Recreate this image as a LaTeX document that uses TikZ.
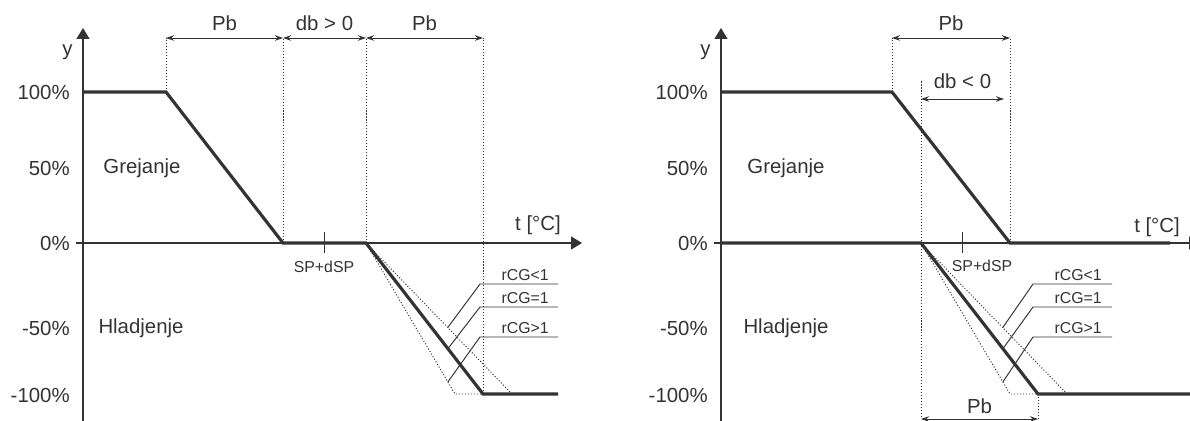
\documentclass[tikz,border=0pt]{standalone}
\usepackage{fontspec}
\setmainfont{Liberation Sans}
\usetikzlibrary{arrows.meta,positioning,calc}

\definecolor{ink}{HTML}{333333}
\tikzset{
  axis/.style={draw=ink, line width=0.75pt, -{Triangle[length=2.2mm,width=2.6mm]}},
  curve/.style={draw=ink, line width=1.8pt},
  thin/.style={draw=ink, line width=0.55pt},
  guide/.style={draw=ink, line width=0.55pt, dash pattern=on 0.6pt off 1.1pt},
  dim/.style={draw=ink, line width=0.55pt, {Stealth[length=1.6mm,width=1.1mm]}-{Stealth[length=1.6mm,width=1.1mm]}},
  lbl/.style={text=ink, font=\fontsize{11.6}{13}\selectfont, inner sep=0pt},
  small/.style={text=ink, font=\fontsize{9}{11}\selectfont, inner sep=0pt},
}

\begin{document}
\begin{tikzpicture}[x=0.2mm, y=0.2mm]
\useasboundingbox (0,0) rectangle (1190,421);

% ---------------- left: db > 0 ----------------
\begin{scope}[shift={(83,178)}]
    % Axes
    \coordinate (Lyb) at (0,-180);
    \coordinate (Lyt) at (0,215);
    \coordinate (Lxb) at (-7,0);
    \coordinate (Lxt) at (499,0);
    \draw[axis] (Lyb) -- (Lyt);
    \draw[axis] (Lxb) -- (Lxt);
    \node[lbl, anchor=east] (Ly) at (-10,191) {y};
    \node[lbl] (Lt) at (455,18) {t [°C]};
    \foreach \v/\t [count=\i] in {151/100\%, 75/50\%, 0/0\%, -85/-50\%, -152/-100\%}
        \node[lbl, anchor=east] (Lp\i) at (-13,\v) {\t};
    \node[lbl] (Lheat) at (59,75) {Grejanje};
    \node[lbl] (Lcool) at (58,-85) {Hladjenje};

    % Curve points
    \coordinate (Lh0) at (0,151);
    \coordinate (Lh1) at (83,151);
    \coordinate (Lh2) at (200,0);
    \coordinate (Lc0) at (283,0);
    \coordinate (Lc1) at (400,-151);
    \coordinate (Lc2) at (475,-151);
    \coordinate (Lcs) at (372,-151);
    \coordinate (Lcw) at (429,-151);
    \coordinate (Ltop) at (0,205);

    % Curves
    \draw[curve] (Lh0) -- (Lh1) -- (Lh2) -- (Lc0) -- (Lc1) -- (Lc2);
    \draw[guide] (Lc0) -- (Lcs) -- (Lc1);
    \draw[guide] (Lc0) -- (Lcw);

    % Bands
    \draw[guide] (Lh1) -- (Lh1 |- Ltop);
    \draw[guide] (Lh2) -- (Lh2 |- Ltop);
    \draw[guide] (Lc0) -- (Lc0 |- Ltop);
    \draw[guide] (Lc1) -- (Lc1 |- Ltop);
    \draw[dim] (Lh1 |- Ltop) -- node[lbl, above=1.3mm] (Lpb1) {Pb} (Lh2 |- Ltop);
    \draw[dim] (Lh2 |- Ltop) -- node[lbl, above=1.3mm] (Ldb) {db > 0} (Lc0 |- Ltop);
    \draw[dim] (Lc0 |- Ltop) -- node[lbl, above=1.3mm] (Lpb2) {Pb} (Lc1 |- Ltop);

    % Set point
    \coordinate (Lsp) at (241,0);
    \draw[thin] ([yshift=2.2mm]Lsp) -- ([yshift=-2mm]Lsp);
    \node[small, anchor=north] (Lspl) at (241,-18) {SP+dSP};

    % rCG labels
    \path (Lc0) -- (Lcw) coordinate[pos=0.56] (Lw1);
    \path (Lc0) -- (Lc1) coordinate[pos=0.70] (Lw2);
    \path (Lc0) -- (Lcs) coordinate[pos=0.92] (Lw3);
    \foreach \i/\v/\t in {1/-41/rCG<1, 2/-64/rCG=1, 3/-94/rCG>1} {
        \coordinate (Lq\i) at (397,\v);
        \coordinate (Lr\i) at (475,\v);
        \draw[thin] (Lw\i) -- (Lq\i) -- (Lr\i);
        \node[small, anchor=south east] (Lrl\i) at ([shift={(-1.8mm,0.5mm)}]Lr\i) {\t};
    }
\end{scope}

% ---------------- right: db < 0 ----------------
\begin{scope}[shift={(721,178)}]
    % Axes
    \coordinate (Ryb) at (0,-180);
    \coordinate (Ryt) at (0,215);
    \coordinate (Rxb) at (-7,0);
    \coordinate (Rxt) at (479,0);
    \draw[axis] (Ryb) -- (Ryt);
    \draw[axis] (Rxb) -- (Rxt);
    \node[lbl, anchor=east] (Ry) at (-10,191) {y};
    \node[lbl] (Rt) at (436,16) {t [°C]};
    \foreach \v/\t [count=\i] in {151/100\%, 75/50\%, 0/0\%, -85/-50\%, -152/-100\%}
        \node[lbl, anchor=east] (Rp\i) at (-13,\v) {\t};
    \node[lbl] (Rheat) at (65,75) {Grejanje};
    \node[lbl] (Rcool) at (65,-85) {Hladjenje};

    % Curve points
    \coordinate (Rh0) at (0,151);
    \coordinate (Rh1) at (171,151);
    \coordinate (Rh2) at (289,0);
    \coordinate (Rh3) at (449,0);
    \coordinate (Rc00) at (0,0);
    \coordinate (Rc0) at (200,0);
    \coordinate (Rc1) at (317,-151);
    \coordinate (Rc2) at (480,-151);
    \coordinate (Rcs) at (289,-151);
    \coordinate (Rcw) at (346,-151);
    \coordinate (Rtop) at (0,205);
    \coordinate (Rmid) at (0,144);
    \coordinate (Rbot) at (0,-176);

    % Curves
    \draw[curve] (Rh0) -- (Rh1) -- (Rh2) -- (Rh3);
    \draw[curve] (Rc00) -- (Rc0) -- (Rc1) -- (Rc2);
    \draw[guide] (Rc0) -- (Rcs) -- (Rc1);
    \draw[guide] (Rc0) -- (Rcw);

    % Bands
    \draw[guide] (Rh1) -- (Rh1 |- Rtop);
    \draw[guide] (Rh2) -- (Rh2 |- Rtop);
    \draw[guide] ([yshift=3.5mm]Rc0 |- Rmid) -- (Rc0 |- Rbot);
    \draw[guide] (Rc1) -- (Rc1 |- Rbot);
    \draw[dim] (Rh1 |- Rtop) -- node[lbl, above=1.3mm] (Rpb1) {Pb} (Rh2 |- Rtop);
    \draw[dim] (Rc0 |- Rmid) -- node[lbl, above=1.9mm] (Rdb) {db < 0} (283,144);
    \draw[dim] (Rc0 |- Rbot) -- node[lbl, above=0.9mm] (Rpb2) {Pb} (Rc1 |- Rbot);

    % Set point
    \coordinate (Rsp) at (241,0);
    \draw[thin] ([yshift=2.2mm]Rsp) -- ([yshift=-2mm]Rsp);
    \node[small, anchor=north] (Rspl) at (261,-17) {SP+dSP};

    % rCG labels
    \path (Rc0) -- (Rcw) coordinate[pos=0.56] (Rw1);
    \path (Rc0) -- (Rc1) coordinate[pos=0.70] (Rw2);
    \path (Rc0) -- (Rcs) coordinate[pos=0.92] (Rw3);
    \foreach \i/\v/\t in {1/-41/rCG<1, 2/-64/rCG=1, 3/-94/rCG>1} {
        \coordinate (Rq\i) at (312,\v);
        \coordinate (Rr\i) at (391,\v);
        \draw[thin] (Rw\i) -- (Rq\i) -- (Rr\i);
        \node[small, anchor=south east] (Rrl\i) at ([shift={(-2mm,0.5mm)}]Rr\i) {\t};
    }
\end{scope}
\end{tikzpicture}
\end{document}
